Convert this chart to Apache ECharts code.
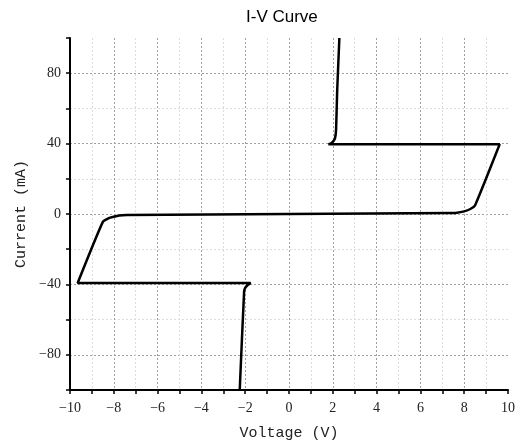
<!DOCTYPE html>
<html>
<head>
    <meta charset="utf-8">
    <title>I-V Curve</title>
    <script src="https://cdn.jsdelivr.net/npm/echarts@6/dist/echarts.min.js"></script>
    <style>
        html, body { margin: 0; padding: 0; background: #fff; }
    </style>
</head>
<body>
<div id="chart1" style="width:524px;height:448px;"></div>
<script type="text/javascript">
    // 曲线数据 (电压 V, 电流 mA)，按路径顺序
    var voltage = [2.30, 2.20, 2.15, 2.10, 2.00, 1.90, 1.80, 9.62, 8.50, 8.30, 8.00, 7.60, 7.40,
        -7.40, -7.75, -8.20, -8.50, -9.65, -1.75, -1.90, -2.00, -2.05, -2.25];
    var current = [100, 70, 48, 43, 41, 40, 39.6, 39.6, 5, 3, 1.5, 0.6, 0.5,
        -0.5, -0.8, -2.2, -4.5, -39.2, -39.2, -40.5, -42, -44, -100];

    var xTicks = [-10, -8, -6, -4, -2, 0, 2, 4, 6, 8, 10];
    var yTicks = [-80, -40, 0, 40, 80];

    var points = voltage.map(function (v, i) { return [v, current[i]]; });

    var dark = '#a0a0a0', light = '#dcdcdc';
    function gridColors(min, max, step, majors) {
        var arr = [];
        for (var v = min; v <= max + 1e-9; v += step) {
            var isEdge = Math.abs(v - min) < 1e-9 || Math.abs(v - max) < 1e-9;
            var isMajor = majors.some(function (m) { return Math.abs(m - v) < 1e-9; });
            arr.push(isEdge ? 'rgba(0,0,0,0)' : (isMajor ? dark : light));
        }
        return arr;
    }

    var myChart1 = echarts.init(document.getElementById('chart1'));
    myChart1.setOption({
        animation: false,
        title: {
            text: 'I-V Curve',
            left: 241,
            top: 4,
            textStyle: { fontFamily: 'Liberation Sans', fontSize: 17, fontWeight: 'normal', color: '#000' }
        },
        grid: { left: 70, right: 16, top: 38, bottom: 58 },
        xAxis: {
            type: 'value',
            min: -10, max: 10, interval: 1,
            name: 'Voltage (V)',
            nameLocation: 'middle',
            nameGap: 36,
            nameTextStyle: { fontFamily: 'Liberation Mono', fontSize: 15, color: '#222' },
            axisLine: { onZero: false, lineStyle: { color: '#000', width: 2 } },
            axisTick: { inside: false, length: 4, lineStyle: { color: '#000', width: 1.5 } },
            axisLabel: {
                margin: 11,
                fontFamily: 'Liberation Serif', fontSize: 14, color: '#222',
                formatter: function (v) {
                    return xTicks.indexOf(v) >= 0 ? String(v).replace('-', '\u2212') : '';
                }
            },
            splitLine: {
                show: true,
                lineStyle: { color: gridColors(-10, 10, 1, xTicks), type: [2, 2], width: 1 }
            }
        },
        yAxis: {
            type: 'value',
            min: -100, max: 100, interval: 20,
            name: 'Current (mA)',
            nameLocation: 'middle',
            nameGap: 38,
            nameTextStyle: { fontFamily: 'Liberation Mono', fontSize: 15, color: '#222' },
            axisLine: { show: true, onZero: false, lineStyle: { color: '#000', width: 2 } },
            axisTick: { show: true, length: 4, lineStyle: { color: '#000', width: 1.5 } },
            axisLabel: {
                margin: 9,
                fontFamily: 'Liberation Serif', fontSize: 14, color: '#222',
                formatter: function (v) {
                    return yTicks.indexOf(v) >= 0 ? String(v).replace('-', '\u2212') : '';
                }
            },
            splitLine: {
                show: true,
                lineStyle: { color: gridColors(-100, 100, 20, yTicks), type: [2, 2], width: 1 }
            }
        },
        series: [{
            name: 'I-V',
            type: 'line',
            data: points,
            showSymbol: false,
            smooth: 0.15,
            lineStyle: { color: '#000', width: 2.5 }
        }]
    });
</script>
</body>
</html>
